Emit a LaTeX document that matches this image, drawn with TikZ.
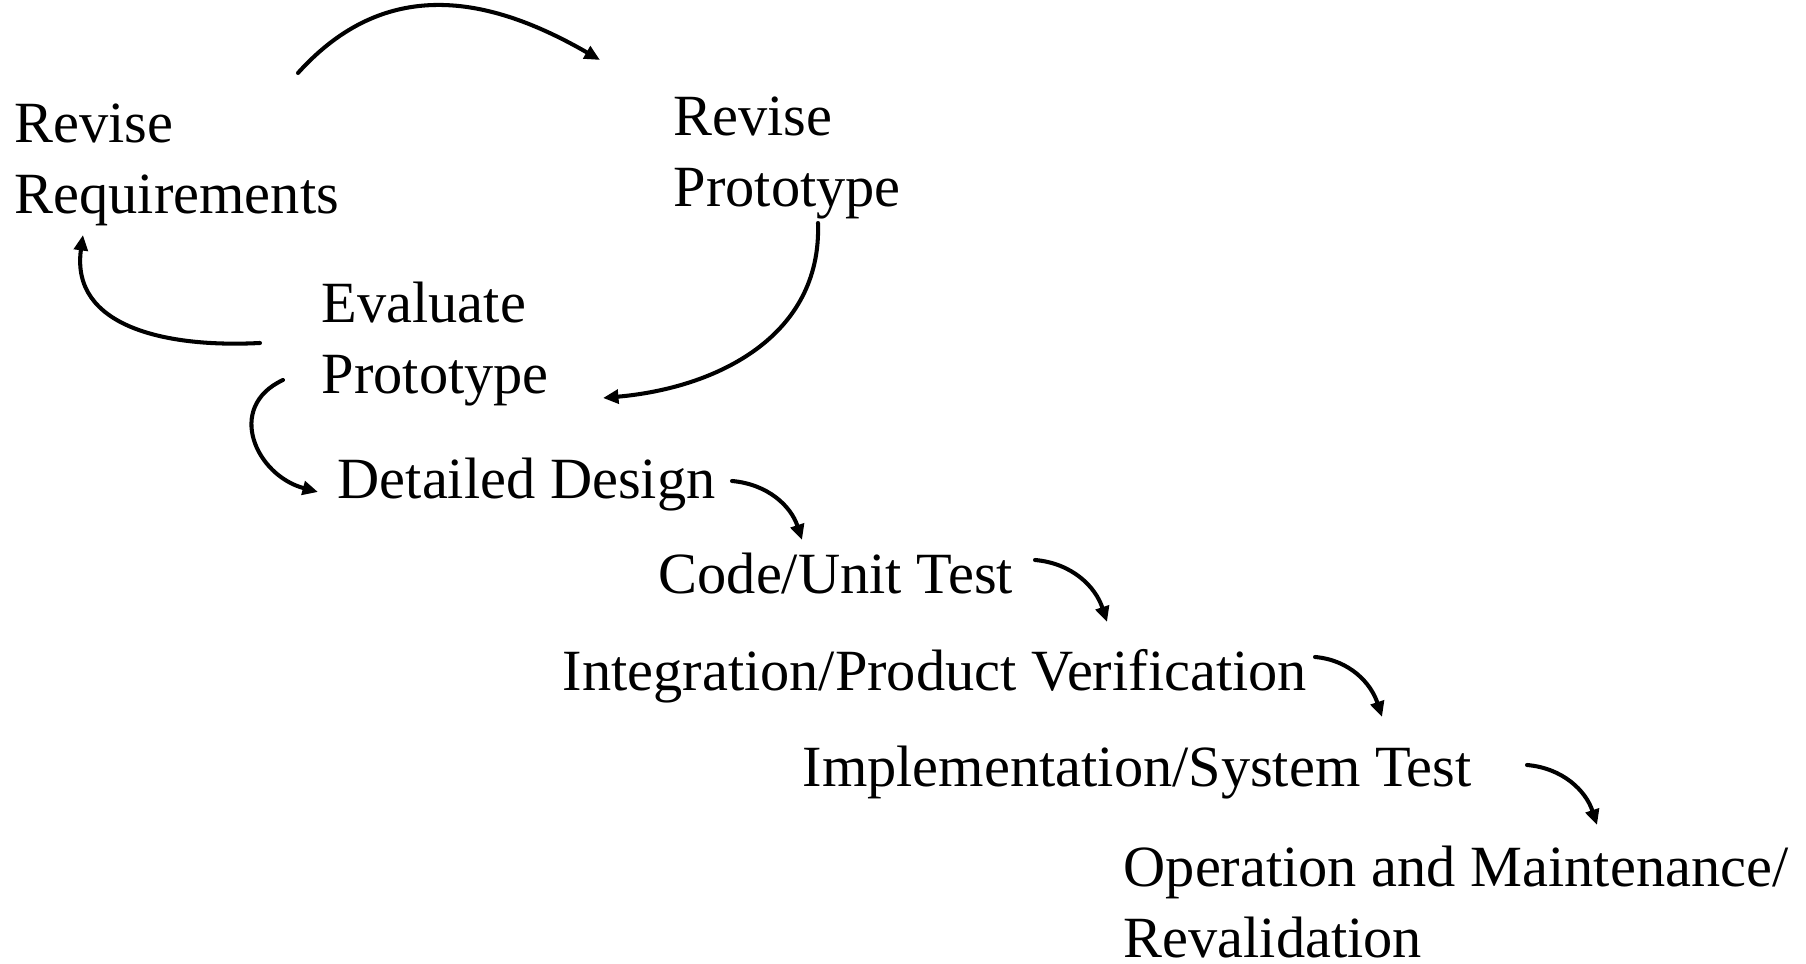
\documentclass[tikz,border=0pt]{standalone}
\usepackage{fontspec}
\setmainfont{Liberation Serif}
\usetikzlibrary{arrows.meta}
\begin{document}
\begin{tikzpicture}[x=0.01cm, y=0.01cm,
  every node/.style={inner sep=0pt, anchor=base west, align=left,
    font=\fontsize{16.6pt}{20.2pt}\selectfont},
  flow/.style={line width=1.15pt, line cap=round,
    -{Triangle[length=4.4pt, width=3.9pt]}}]
\useasboundingbox (0,0) rectangle (1806,964);
\node (revreq) at (14,750) {Revise\\Requirements};
\node (revproto) at (673,757) {Revise\\Prototype};
\node (evalp) at (321,570) {Evaluate\\Prototype};
\node (design) at (337,465) {Detailed Design};
\node (code) at (658,370) {Code/Unit Test};
\node (integ) at (562,273) {Integration/Product Verification};
\node (impl) at (802,177) {Implementation/System Test};
\node (oper) at (1123,6) {Operation and Maintenance/\\Revalidation};
% prototype loop
\draw[flow] ([shift={(284,141)}]revreq.base west) to[out=48, in=150, looseness=1.1] ([shift={(-73,147)}]revproto.base west);
\draw[flow] ([shift={(145,-16)}]revproto.base west) to[out=-88, in=5, looseness=1.05] ([shift={(282,-4)}]evalp.base west);
\draw[flow] ([shift={(-61,51)}]evalp.base west) to[out=183, in=-98, looseness=1.15] ([shift={(69,-21)}]revreq.base west);
% waterfall
\draw[flow] ([shift={(-38,14)}]evalp.base west) to[out=205, in=165, looseness=1.4] ([shift={(-19,7)}]design.base west);
\draw[flow] ([shift={(395,18)}]design.base west) to[out=-5, in=108] ([shift={(144,54)}]code.base west);
\draw[flow] ([shift={(377,34)}]code.base west) to[out=-5, in=108] ([shift={(545,69)}]integ.base west);
\draw[flow] ([shift={(753,34)}]integ.base west) to[out=-5, in=108] ([shift={(580,70)}]impl.base west);
\draw[flow] ([shift={(725,22)}]impl.base west) to[out=-5, in=108] ([shift={(474,133)}]oper.base west);
\end{tikzpicture}
\end{document}
